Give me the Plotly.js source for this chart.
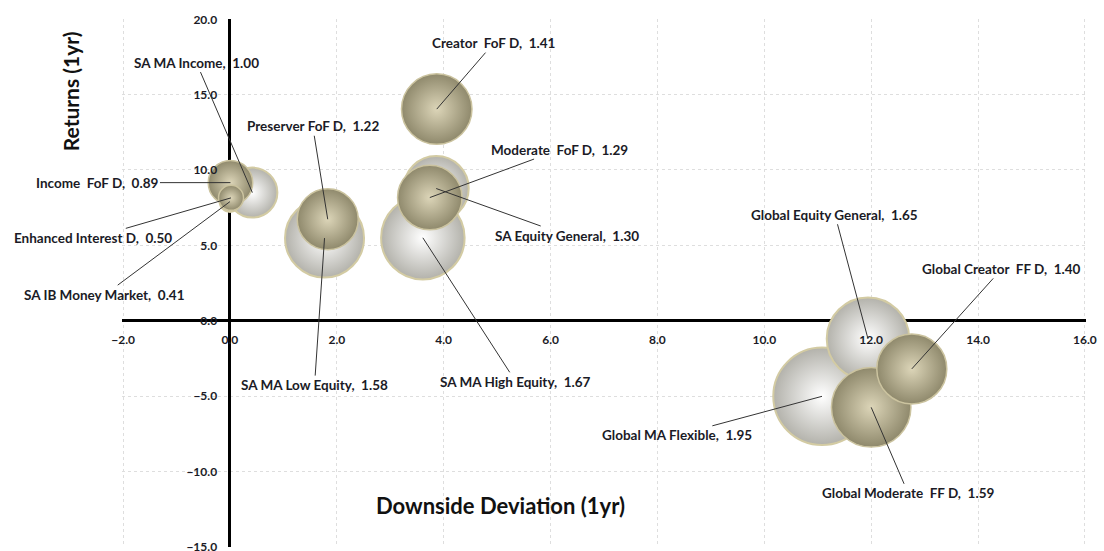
<!DOCTYPE html>
<html>
<head>
<meta charset="utf-8">
<script src="https://cdn.plot.ly/plotly-3.0.1.min.js"></script>
<style>
  html, body { margin: 0; padding: 0; background: #ffffff; }
  #chart { width: 1104px; height: 551px; }
</style>
</head>
<body>
<div id="chart"></div>
<script>
// Own funds (tan bubbles), larger bubbles first so smaller ones sit in front
const fundNames = ['Global Moderate  FF D', 'Creator  FoF D', 'Global Creator  FF D', 'Moderate  FoF D',
                   'Preserver FoF D', 'Income  FoF D', 'Enhanced Interest D'];
const fundDownside = [12.00, 3.87, 12.76, 3.74, 1.83, 0.01, 0.02];
const fundReturns  = [-5.75, 14.04, -3.20, 8.17, 6.73, 9.16, 8.15];
const fundSize     = [1.59, 1.41, 1.40, 1.29, 1.22, 0.89, 0.50];

// Sector averages (white bubbles)
const sectorNames = ['Global MA Flexible', 'SA MA High Equity', 'Global Equity General', 'SA MA Low Equity',
                     'SA Equity General', 'SA MA Income', 'SA IB Money Market'];
const sectorDownside = [11.08, 3.61, 11.94, 1.77, 3.86, 0.42, 0.00];
const sectorReturns  = [-5.02, 5.50, -1.20, 5.48, 8.77, 8.50, 7.90];
const sectorSize     = [1.95, 1.67, 1.65, 1.58, 1.30, 1.00, 0.41];

// Axis ticks
const xTicks = [-2, 0, 2, 4, 6, 8, 10, 12, 14, 16];
const yTicks = [-15, -10, -5, 0, 5, 10, 15, 20];

// Label placement (pixel offset of each label from its bubble)
const labelOffset = {
  'SA MA Income': [-56, -130],
  'Income  FoF D': [-133, 0],
  'Enhanced Interest D': [-138, 40],
  'SA IB Money Market': [-125, 93],
  'Preserver FoF D': [-15, -93],
  'Creator  FoF D': [57, -66],
  'Moderate  FoF D': [130, -48],
  'SA Equity General': [131, 47],
  'SA MA Low Equity': [-10, 147],
  'SA MA High Equity': [93, 144],
  'Global Equity General': [-33, -124],
  'Global Creator  FF D': [90, -100],
  'Global MA Flexible': [-145, 39],
  'Global Moderate  FF D': [37, 86]
};

const FONT = 'Lato, "Open Sans", "Liberation Sans", sans-serif';
const TEXT_COLOR = '#1b1b26';
const PX_PER_UNIT = 50; // bubble diameter in px per unit of size
const PAD = 0.02;       // tiny range padding so the edge grid lines stay visible

const sectorTrace = {
  type: 'scatter', mode: 'markers',
  x: sectorDownside, y: sectorReturns, text: sectorNames,
  hoverinfo: 'text',
  marker: {
    size: sectorSize, sizemode: 'diameter', sizeref: 1 / PX_PER_UNIT,
    color: '#b3b2ab',
    gradient: { type: 'radial', color: '#ffffff' },
    line: { color: '#d3cba3', width: 2 },
    opacity: 1
  },
  showlegend: false
};

const fundTrace = {
  type: 'scatter', mode: 'markers',
  x: fundDownside, y: fundReturns, text: fundNames,
  hoverinfo: 'text',
  marker: {
    size: fundSize, sizemode: 'diameter', sizeref: 1 / PX_PER_UNIT,
    color: '#8f896c',
    gradient: { type: 'radial', color: '#dcd5b8' },
    line: { color: '#cbc39f', width: 1.5 },
    opacity: 1
  },
  showlegend: false
};

function makeLabels(names, xs, ys, sizes) {
  return names.map((n, i) => {
    const off = labelOffset[n] || [40, -40];
    return {
      xref: 'x', yref: 'y', x: xs[i], y: ys[i],
      text: n + ',\u00a0 ' + sizes[i].toFixed(2),
      showarrow: true, arrowhead: 0, arrowwidth: 1, arrowcolor: '#333333',
      standoff: 0, ax: off[0], ay: off[1],
      font: { family: FONT, size: 13.5, color: TEXT_COLOR, weight: 'bold' }
    };
  });
}

const annotations = [
  ...makeLabels(sectorNames, sectorDownside, sectorReturns, sectorSize),
  ...makeLabels(fundNames, fundDownside, fundReturns, fundSize),
  {
    xref: 'paper', yref: 'paper', x: -0.054, y: 0.863, textangle: -90,
    xanchor: 'center', yanchor: 'middle',
    text: 'Returns (1yr)', showarrow: false,
    font: { family: FONT, size: 21, color: '#111111', weight: 'bold' }
  },
  {
    xref: 'paper', yref: 'paper', x: 0.393, y: 0.0795,
    xanchor: 'center', yanchor: 'middle',
    text: 'Downside Deviation (1yr)', showarrow: false,
    font: { family: FONT, size: 22, color: '#111111', weight: 'bold' }
  }
];

const axisCommon = {
  showgrid: true, gridcolor: '#dedede', griddash: 'dot', gridwidth: 1,
  zeroline: true, zerolinecolor: '#000000', zerolinewidth: 3,
  showline: false, ticks: '', tickformat: '.1f',
  tickfont: { family: FONT, size: 12, color: TEXT_COLOR, weight: 'bold' },
  ticklabeloverflow: 'allow',
  layer: 'above traces', fixedrange: true
};

const xMin = xTicks[0], xMax = xTicks[xTicks.length - 1];
const yMin = yTicks[0], yMax = yTicks[yTicks.length - 1];

const layout = {
  width: 1104, height: 551,
  margin: { l: 122, r: 18, t: 19, b: 4 },
  paper_bgcolor: '#ffffff', plot_bgcolor: '#ffffff',
  xaxis: Object.assign({}, axisCommon, {
    range: [xMin - PAD, xMax + PAD],
    tickvals: xTicks, anchor: 'free',
    position: (0 - yMin) / (yMax - yMin),
    side: 'bottom', ticklabelstandoff: 10
  }),
  yaxis: Object.assign({}, axisCommon, {
    range: [yMin - PAD, yMax + PAD],
    tickvals: yTicks, anchor: 'free',
    position: (0 - xMin) / (xMax - xMin),
    side: 'left', ticklabelstandoff: 12
  }),
  annotations: annotations,
  showlegend: false
};

Plotly.newPlot('chart', [sectorTrace, fundTrace], layout, { displayModeBar: false, staticPlot: true });
</script>
</body>
</html>
